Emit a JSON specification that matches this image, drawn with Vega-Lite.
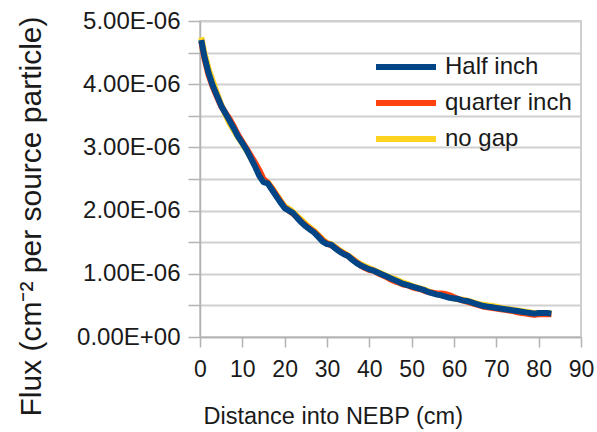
{
  "$schema": "https://vega.github.io/schema/vega-lite/v6.json",
  "width": 381,
  "height": 316,
  "autosize": "none",
  "padding": {"left": 200, "top": 21, "right": 16, "bottom": 95},
  "background": "white",
  "config": {
    "font": "Liberation Sans",
    "view": {"stroke": "#c0c0c0", "strokeWidth": 1.5},
    "axis": {"labelFont": "Liberation Sans", "titleFont": "Liberation Sans", "labelColor": "#1a1a1a", "titleColor": "#1a1a1a", "titleFontWeight": "normal", "domainColor": "#b3b3b3", "tickColor": "#b3b3b3", "domainWidth": 1.5, "tickWidth": 1.5},
    "legend": {"labelFont": "Liberation Sans"}
  },
  "encoding": {
    "x": {"field": "d", "type": "quantitative", "scale": {"domain": [0, 90], "nice": false},
      "axis": {"values": [0,10,20,30,40,50,60,70,80,90], "grid": false, "title": "Distance into NEBP (cm)", "titleFontSize": 23.5, "titleAnchor": "start", "titleAlign": "left", "titleX": 3, "titleY": 86, "titleBaseline": "alphabetic", "labelFontSize": 23, "tickSize": 10, "labelPadding": 11, "labelFlush": false}},
    "y": {"field": "f", "type": "quantitative", "scale": {"domain": [0, 5e-6], "nice": false},
      "axis": {"values": [0, 5e-7, 1e-6, 1.5e-6, 2e-6, 2.5e-6, 3e-6, 3.5e-6, 4e-6, 4.5e-6, 5e-6], "labelExpr": "datum.value == 0 ? '0.00E+00' : (round(datum.value*2e6) % 2 == 0 ? format(datum.value*1e6, '.2f') + 'E-06' : '')", "grid": true, "gridColor": "#d0d0d0", "gridWidth": 2, "title": "Flux (cm⁻² per source particle)", "titleFontSize": 30, "titleAngle": -90, "titleX": -169, "titleY": 195, "titleAlign": "center", "titleBaseline": "middle", "labelFontSize": 24, "tickSize": 12, "labelPadding": 8, "labelFlush": false}},
    "color": {"type": "nominal", "scale": {"domain": ["Half inch", "quarter inch", "no gap"], "range": ["#004586", "#ff420e", "#ffd320"]},
      "legend": {"title": null, "orient": "none", "legendX": 173, "legendY": 28, "symbolType": "stroke", "symbolSize": 3600, "symbolStrokeWidth": 6, "labelFontSize": 24, "labelColor": "#1a1a1a", "labelOffset": 6, "clipHeight": 36, "rowPadding": 0, "padding": 0}}
  },
  "layer": [
    {
      "data": {"values": [
        {"d":0.3,"f":4.74e-6},{"d":1,"f":4.50e-6},{"d":2,"f":4.25e-6},{"d":3,"f":4.05e-6},{"d":4,"f":3.86e-6},{"d":5,"f":3.68e-6},{"d":6,"f":3.52e-6},{"d":7,"f":3.38e-6},{"d":8,"f":3.27e-6},{"d":9,"f":3.16e-6},
        {"d":10,"f":3.06e-6},{"d":11,"f":2.95e-6},{"d":12,"f":2.84e-6},{"d":13,"f":2.72e-6},{"d":14,"f":2.58e-6},{"d":15,"f":2.48e-6},{"d":16,"f":2.45e-6},{"d":17,"f":2.36e-6},{"d":18,"f":2.26e-6},{"d":19,"f":2.16e-6},
        {"d":20,"f":2.07e-6},{"d":21,"f":2.03e-6},{"d":22,"f":1.98e-6},{"d":23,"f":1.91e-6},{"d":24,"f":1.85e-6},{"d":25,"f":1.79e-6},{"d":26,"f":1.73e-6},{"d":27,"f":1.68e-6},{"d":28,"f":1.61e-6},{"d":29,"f":1.54e-6},
        {"d":30,"f":1.49e-6},{"d":31,"f":1.47e-6},{"d":32,"f":1.42e-6},{"d":33,"f":1.37e-6},{"d":34,"f":1.33e-6},{"d":35,"f":1.29e-6},{"d":36,"f":1.24e-6},{"d":37,"f":1.19e-6},{"d":38,"f":1.15e-6},{"d":39,"f":1.12e-6},
        {"d":40,"f":1.09e-6},{"d":41,"f":1.06e-6},{"d":42,"f":1.03e-6},{"d":43,"f":1.00e-6},{"d":44,"f":0.97e-6},{"d":45,"f":0.94e-6},{"d":46,"f":0.92e-6},{"d":47,"f":0.89e-6},{"d":48,"f":0.86e-6},{"d":49,"f":0.84e-6},
        {"d":50,"f":0.81e-6},{"d":51,"f":0.79e-6},{"d":52,"f":0.77e-6},{"d":53,"f":0.75e-6},{"d":54,"f":0.72e-6},{"d":55,"f":0.70e-6},{"d":56,"f":0.68e-6},{"d":57,"f":0.66e-6},{"d":58,"f":0.65e-6},{"d":59,"f":0.63e-6},
        {"d":60,"f":0.61e-6},{"d":61,"f":0.60e-6},{"d":62,"f":0.59e-6},{"d":63,"f":0.58e-6},{"d":64,"f":0.56e-6},{"d":65,"f":0.54e-6},{"d":66,"f":0.52e-6},{"d":67,"f":0.51e-6},{"d":68,"f":0.50e-6},{"d":69,"f":0.49e-6},
        {"d":70,"f":0.48e-6},{"d":71,"f":0.46e-6},{"d":72,"f":0.45e-6},{"d":73,"f":0.44e-6},{"d":74,"f":0.43e-6},{"d":75,"f":0.42e-6},{"d":76,"f":0.41e-6},{"d":77,"f":0.40e-6},{"d":78,"f":0.39e-6},{"d":79,"f":0.38e-6},
        {"d":80,"f":0.38e-6},{"d":81,"f":0.38e-6},{"d":82,"f":0.38e-6},{"d":83,"f":0.38e-6}
      ]},
      "mark": {"type": "line", "strokeWidth": 6, "strokeJoin": "round"},
      "encoding": {"color": {"datum": "no gap"}}
    },
    {
      "data": {"values": [
        {"d":0.3,"f":4.68e-6},{"d":1,"f":4.42e-6},{"d":2,"f":4.15e-6},{"d":3,"f":3.96e-6},{"d":4,"f":3.80e-6},{"d":5,"f":3.65e-6},{"d":6,"f":3.55e-6},{"d":7,"f":3.45e-6},{"d":8,"f":3.33e-6},{"d":9,"f":3.20e-6},
        {"d":10,"f":3.09e-6},{"d":11,"f":2.98e-6},{"d":12,"f":2.87e-6},{"d":13,"f":2.76e-6},{"d":14,"f":2.64e-6},{"d":15,"f":2.50e-6},{"d":16,"f":2.44e-6},{"d":17,"f":2.35e-6},{"d":18,"f":2.25e-6},{"d":19,"f":2.15e-6},
        {"d":20,"f":2.05e-6},{"d":21,"f":2.00e-6},{"d":22,"f":1.95e-6},{"d":23,"f":1.89e-6},{"d":24,"f":1.82e-6},{"d":25,"f":1.76e-6},{"d":26,"f":1.71e-6},{"d":27,"f":1.66e-6},{"d":28,"f":1.60e-6},{"d":29,"f":1.53e-6},
        {"d":30,"f":1.48e-6},{"d":31,"f":1.45e-6},{"d":32,"f":1.41e-6},{"d":33,"f":1.36e-6},{"d":34,"f":1.32e-6},{"d":35,"f":1.28e-6},{"d":36,"f":1.23e-6},{"d":37,"f":1.18e-6},{"d":38,"f":1.13e-6},{"d":39,"f":1.09e-6},
        {"d":40,"f":1.06e-6},{"d":41,"f":1.05e-6},{"d":42,"f":1.01e-6},{"d":43,"f":0.98e-6},{"d":44,"f":0.95e-6},{"d":45,"f":0.91e-6},{"d":46,"f":0.88e-6},{"d":47,"f":0.86e-6},{"d":48,"f":0.83e-6},{"d":49,"f":0.82e-6},
        {"d":50,"f":0.79e-6},{"d":51,"f":0.77e-6},{"d":52,"f":0.76e-6},{"d":53,"f":0.73e-6},{"d":54,"f":0.71e-6},{"d":55,"f":0.70e-6},{"d":56,"f":0.69e-6},{"d":57,"f":0.69e-6},{"d":58,"f":0.68e-6},{"d":59,"f":0.66e-6},
        {"d":60,"f":0.63e-6},{"d":61,"f":0.60e-6},{"d":62,"f":0.58e-6},{"d":63,"f":0.56e-6},{"d":64,"f":0.54e-6},{"d":65,"f":0.52e-6},{"d":66,"f":0.50e-6},{"d":67,"f":0.48e-6},{"d":68,"f":0.47e-6},{"d":69,"f":0.46e-6},
        {"d":70,"f":0.45e-6},{"d":71,"f":0.44e-6},{"d":72,"f":0.43e-6},{"d":73,"f":0.42e-6},{"d":74,"f":0.41e-6},{"d":75,"f":0.39e-6},{"d":76,"f":0.38e-6},{"d":77,"f":0.37e-6},{"d":78,"f":0.36e-6},{"d":79,"f":0.35e-6},
        {"d":80,"f":0.36e-6},{"d":81,"f":0.36e-6},{"d":82,"f":0.36e-6},{"d":83,"f":0.36e-6}
      ]},
      "mark": {"type": "line", "strokeWidth": 6, "strokeJoin": "round"},
      "encoding": {"color": {"datum": "quarter inch"}}
    },
    {
      "data": {"values": [
        {"d":0.3,"f":4.70e-6},{"d":1,"f":4.45e-6},{"d":2,"f":4.18e-6},{"d":3,"f":3.98e-6},{"d":4,"f":3.82e-6},{"d":5,"f":3.66e-6},{"d":6,"f":3.54e-6},{"d":7,"f":3.42e-6},{"d":8,"f":3.30e-6},{"d":9,"f":3.17e-6},
        {"d":10,"f":3.07e-6},{"d":11,"f":2.96e-6},{"d":12,"f":2.83e-6},{"d":13,"f":2.70e-6},{"d":14,"f":2.55e-6},{"d":15,"f":2.45e-6},{"d":16,"f":2.43e-6},{"d":17,"f":2.33e-6},{"d":18,"f":2.23e-6},{"d":19,"f":2.13e-6},
        {"d":20,"f":2.04e-6},{"d":21,"f":2.00e-6},{"d":22,"f":1.96e-6},{"d":23,"f":1.88e-6},{"d":24,"f":1.81e-6},{"d":25,"f":1.75e-6},{"d":26,"f":1.70e-6},{"d":27,"f":1.65e-6},{"d":28,"f":1.58e-6},{"d":29,"f":1.51e-6},
        {"d":30,"f":1.47e-6},{"d":31,"f":1.46e-6},{"d":32,"f":1.40e-6},{"d":33,"f":1.35e-6},{"d":34,"f":1.31e-6},{"d":35,"f":1.28e-6},{"d":36,"f":1.22e-6},{"d":37,"f":1.17e-6},{"d":38,"f":1.13e-6},{"d":39,"f":1.10e-6},
        {"d":40,"f":1.07e-6},{"d":41,"f":1.05e-6},{"d":42,"f":1.02e-6},{"d":43,"f":0.99e-6},{"d":44,"f":0.96e-6},{"d":45,"f":0.93e-6},{"d":46,"f":0.90e-6},{"d":47,"f":0.87e-6},{"d":48,"f":0.84e-6},{"d":49,"f":0.82e-6},
        {"d":50,"f":0.80e-6},{"d":51,"f":0.78e-6},{"d":52,"f":0.76e-6},{"d":53,"f":0.74e-6},{"d":54,"f":0.71e-6},{"d":55,"f":0.69e-6},{"d":56,"f":0.67e-6},{"d":57,"f":0.66e-6},{"d":58,"f":0.64e-6},{"d":59,"f":0.62e-6},
        {"d":60,"f":0.61e-6},{"d":61,"f":0.60e-6},{"d":62,"f":0.58e-6},{"d":63,"f":0.57e-6},{"d":64,"f":0.55e-6},{"d":65,"f":0.53e-6},{"d":66,"f":0.51e-6},{"d":67,"f":0.49e-6},{"d":68,"f":0.48e-6},{"d":69,"f":0.47e-6},
        {"d":70,"f":0.46e-6},{"d":71,"f":0.45e-6},{"d":72,"f":0.44e-6},{"d":73,"f":0.43e-6},{"d":74,"f":0.42e-6},{"d":75,"f":0.41e-6},{"d":76,"f":0.40e-6},{"d":77,"f":0.39e-6},{"d":78,"f":0.38e-6},{"d":79,"f":0.37e-6},
        {"d":80,"f":0.38e-6},{"d":81,"f":0.38e-6},{"d":82,"f":0.38e-6},{"d":83,"f":0.37e-6}
      ]},
      "mark": {"type": "line", "strokeWidth": 6, "strokeJoin": "round"},
      "encoding": {"color": {"datum": "Half inch"}}
    }
  ]
}
